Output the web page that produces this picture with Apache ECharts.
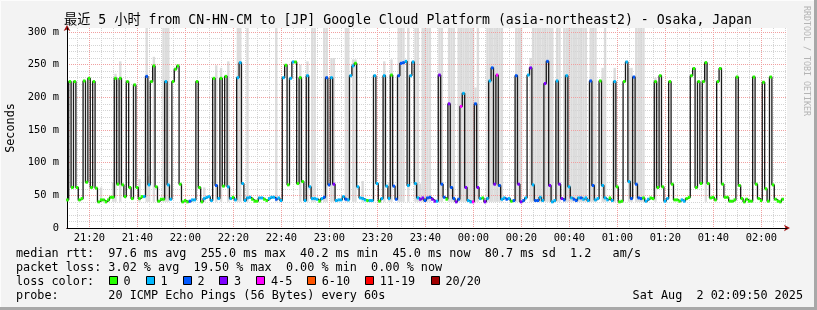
<!DOCTYPE html>
<html><head><meta charset="utf-8">
<script src="https://cdn.jsdelivr.net/npm/echarts@6/dist/echarts.min.js"></script>
<style>html,body{margin:0;padding:0;background:#f3f3f3}#c{width:817px;height:310px}</style>
</head><body><div id="c"></div>
<script>
// ---- data ----
// minutes after 21:00 at which the first 60 s slot starts
const startMinute = 10.4;
// median RTT per minute, ms
const median = [
 43,224,62,224,62,43,45,225,70,229, 62,224,61,40,43,43,40,43,47,47,
 229,67,229,66,48,224,62,45,219,62, 45,48,48,232,66,224,248,63,41,44,
 44,224,66,44,224,243,248,67,40,42, 40,41,43,43,224,62,40,45,47,48,
 42,229,65,45,229,64,232,63,45,47, 43,230,253,68,42,46,47,44,41,41,
 46,46,44,42,45,47,47,44,46,42, 230,249,66,229,254,254,68,230,71,42,
 233,63,45,45,44,41,45,47,230,66, 230,67,42,43,43,48,44,43,233,248,
 252,63,46,45,43,42,42,42,233,68, 41,45,233,64,45,234,64,44,233,252,
 253,255,65,233,254,68,46,44,46,42, 46,47,44,41,41,234,67,47,44,190,
 62,45,40,44,186,206,62,42,40,40, 190,62,45,46,40,45,225,245,67,234,
 65,44,46,44,45,41,42,233,67,40, 42,46,234,245,66,42,42,47,42,221,
 255,65,40,42,225,67,45,43,233,63, 46,44,42,46,46,44,46,42,225,65,
 43,45,225,65,46,43,46,42,224,63, 40,41,224,254,71,45,231,67,46,45,
 46,41,44,46,45,224,62,233,63,41, 45,224,67,43,43,41,43,41,45,47,
 233,244,62,224,68,224,253,68,46,47, 43,224,244,67,47,47,41,41,43,231,
 65,45,40,44,41,41,231,67,45,42, 223,60,41,231,66,44,41,40,44
];
// loss bucket per minute: 0 -> "0", 1 -> "1", 2 -> "2", 3 -> "3", 4 -> "4-5"
const loss = [
 0,0,0,0,0,0,0,0,0,0, 0,0,0,0,0,0,0,0,0,0,
 0,0,0,0,0,0,0,0,0,0, 0,0,1,2,1,0,0,0,0,0,
 0,1,1,1,0,0,0,0,0,0, 0,2,1,1,0,0,0,1,1,1,
 1,0,2,1,0,0,0,1,1,0, 1,1,1,1,1,1,1,0,0,0,
 1,1,0,0,1,1,1,2,1,1, 1,0,0,1,1,0,0,0,0,1,
 1,1,1,1,1,0,1,2,2,2, 1,3,1,1,1,1,2,1,1,1,
 0,1,1,1,1,0,1,1,1,1, 0,1,1,1,1,0,2,2,2,2,
 2,1,1,1,1,1,1,3,3,2, 2,2,3,3,1,3,2,2,0,3,
 2,2,3,2,4,1,3,1,1,4, 2,3,1,0,3,1,1,2,3,4,
 2,1,1,2,1,0,2,2,3,3, 2,1,1,3,1,2,2,1,1,3,
 2,3,1,1,1,3,3,2,1,1, 1,2,2,1,2,1,1,1,2,2,
 1,1,0,1,1,1,0,1,1,0, 0,0,0,1,1,2,2,2,2,2,
 0,1,1,0,0,0,0,0,0,1, 1,0,0,0,0,0,1,1,0,0,
 0,0,0,0,0,0,0,0,0,0, 0,0,0,0,0,0,0,0,0,0,
 0,0,0,0,0,0,0,0,0,0, 0,0,0,0,0,0,0,0,0
];
// top of the "smoke" (spread of the 20 pings) per minute, ms; 0 = none visible
const smokeTop = [
 0,0,0,0,0,0,0,0,0,0, 0,0,0,0,62,0,0,0,0,70,
 236,0,255,0,0,0,0,0,0,0, 75,0,0,310,80,0,262,0,0,0,
 310,310,310,0,0,0,0,0,0,0, 0,0,0,0,0,0,0,62,0,0,
 0,0,249,0,245,0,0,255,0,0, 0,310,310,0,0,310,0,0,0,0,
 0,0,0,0,0,0,0,310,0,0, 0,0,0,0,0,0,0,250,0,0,
 255,0,310,310,0,0,0,310,310,0, 260,260,0,0,0,0,310,310,0,258,
 258,0,0,72,0,0,0,0,0,0, 0,0,255,0,70,258,0,0,310,310,
 310,0,310,0,0,310,310,68,310,310, 310,310,0,0,0,310,310,0,0,310,
 310,310,0,310,310,310,310,310,310,310, 215,310,0,0,0,310,310,310,310,310,
 310,310,0,0,0,0,0,310,310,310, 0,0,0,260,310,310,310,310,310,310,
 310,310,310,0,310,310,0,310,310,310, 310,310,310,310,310,310,310,0,310,310,
 310,0,0,245,310,0,0,0,245,0, 0,0,0,0,245,245,0,310,310,310,
 310,0,0,0,0,230,0,0,0,0, 0,0,0,0,0,0,0,0,0,0,
 0,0,0,0,0,0,255,0,0,0, 0,0,0,0,0,0,0,0,0,0,
 0,0,0,0,0,0,0,0,0,0, 0,0,0,0,0,0,0,0,0
];
const smokeFloor = 40;
// x tick labels and their minutes after 21:00
const xTickLabels = ['21:20','21:40','22:00','22:20','22:40','23:00','23:20','23:40','00:00','00:20','00:40','01:00','01:20','01:40','02:00'];
const xTickMinutes = [20,40,60,80,100,120,140,160,180,200,220,240,260,280,300];
const yTicks = [0,50,100,150,200,250,300];
const lossLabels = ['0','1','2','3','4-5','6-10','11-19','20/20'];
const lossColors = ['#26ff00','#00b8ff','#0059ff','#7e00ff','#ff00ff','#ff5500','#ff0000','#a00000'];

// ---- derived ----
const xMin = 10.7, xMax = 310.7, yMax = 306;
const minorX = []; for (let m = 15; m <= 310; m += 5) if (m % 20) minorX.push(m);
const minorY = []; for (let v = 10; v <= 300; v += 10) if (v % 50) minorY.push(v);
const stepData = median.map((v, j) => [startMinute + j, v]);
stepData.push([startMinute + median.length, median[median.length - 1]]);
const markData = median.map((v, j) => [startMinute + j, v, loss[j]]);
const smokeData = smokeTop.map((h, j) => [startMinute + j, h]);

const MONO = '"DejaVu Sans Mono", monospace';
const chart = echarts.init(document.getElementById('c'), null, {renderer: 'canvas', width: 817, height: 310});

const legendFont = '11.8px ' + MONO;
const graphics = [
  // frame
  {type: 'rect', shape: {x: 0.5, y: 0.5, width: 815, height: 308}, style: {fill: null, stroke: '#fcfcfc', lineWidth: 1}, z: -10, silent: true},
  {type: 'line', shape: {x1: 815.5, y1: 0, x2: 815.5, y2: 310}, style: {stroke: '#a8a8a8', lineWidth: 3}, silent: true},
  {type: 'line', shape: {x1: 0, y1: 308.5, x2: 817, y2: 308.5}, style: {stroke: '#a8a8a8', lineWidth: 3}, silent: true},
  // title
  {type: 'text', x: 408, y: 21, style: {text: '最近 5 小时 from CN-HN-CM to [JP] Google Cloud Platform (asia-northeast2) - Osaka, Japan',
    font: '13.2px "DejaVu Sans Mono", "Noto Sans CJK SC", monospace', fill: '#000', align: 'center', verticalAlign: 'middle'}},
  // unit label
  {type: 'text', x: 11, y: 128, rotation: Math.PI / 2, style: {text: 'Seconds', font: '11.8px ' + MONO, fill: '#000', align: 'center', verticalAlign: 'middle'}},
  // watermark
  {type: 'text', x: 806.5, y: 61, rotation: -Math.PI / 2, style: {text: 'RRDTOOL / TOBI OETIKER', font: '8.3px ' + MONO, fill: '#b4b4b4', align: 'center', verticalAlign: 'middle'}},
  // legend lines
  {type: 'text', x: 16, y: 254, style: {text: 'median rtt:  97.6 ms avg  255.0 ms max  40.2 ms min  45.0 ms now  80.7 ms sd  1.2   am/s', font: legendFont, fill: '#000', verticalAlign: 'middle'}},
  {type: 'text', x: 16, y: 268, style: {text: 'packet loss: 3.02 % avg  19.50 % max  0.00 % min  0.00 % now', font: legendFont, fill: '#000', verticalAlign: 'middle'}},
  {type: 'text', x: 16, y: 282, style: {text: 'loss color:', font: legendFont, fill: '#000', verticalAlign: 'middle'}},
  {type: 'text', x: 16, y: 296, style: {text: 'probe:       20 ICMP Echo Pings (56 Bytes) every 60s', font: legendFont, fill: '#000', verticalAlign: 'middle'}},
  {type: 'text', x: 803, y: 296, style: {text: 'Sat Aug  2 02:09:50 2025', font: legendFont, fill: '#000', align: 'right', verticalAlign: 'middle'}}
];
const boxX = [108.7, 145.7, 182.7, 219.3, 256.3, 307, 365, 430.7];
lossLabels.forEach((lab, i) => {
  const bx = Math.round(boxX[i]) + 0.5;
  graphics.push({type: 'rect', shape: {x: bx, y: 276.5, width: 8, height: 8}, style: {fill: lossColors[i], stroke: '#000', lineWidth: 1}});
  graphics.push({type: 'text', x: boxX[i] + 14.7, y: 282, style: {text: lab, font: legendFont, fill: '#000', verticalAlign: 'middle'}});
});

const axisFont = {fontFamily: MONO, fontSize: 10.4, color: '#000'};
chart.setOption({
  animation: false,
  backgroundColor: '#f3f3f3',
  grid: {left: 67, top: 28, width: 720, height: 200, show: true, backgroundColor: '#ffffff', borderWidth: 0, z: -2, containLabel: false},
  xAxis: [
    {type: 'value', min: xMin, max: xMax, position: 'bottom', z: 1,
     axisLine: {show: true, onZero: false, lineStyle: {color: '#000', width: 1}},
     axisTick: {show: false, customValues: xTickMinutes},
     axisLabel: Object.assign({customValues: xTickMinutes, margin: 5, formatter: v => xTickLabels[xTickMinutes.indexOf(Math.round(v))] || ''}, axisFont),
     splitLine: {show: true, lineStyle: {color: '#f0a0a0', width: 1, type: [1, 1]}}},
    {type: 'value', min: xMin, max: xMax, position: 'bottom', z: 0,
     axisLine: {show: true, onZero: false, symbol: ['none', 'arrow'], symbolSize: [5, 6], symbolOffset: [0, 3], lineStyle: {color: '#a01010', width: 1}},
     axisTick: {show: false, customValues: minorX},
     axisLabel: {show: false},
     splitLine: {show: true, lineStyle: {color: '#d4d4d4', width: 1, type: [1, 1]}}}
  ],
  yAxis: [
    {type: 'value', min: 0, max: yMax, position: 'left', z: 1,
     axisLine: {show: true, onZero: false, lineStyle: {color: '#000', width: 1}},
     axisTick: {show: false, customValues: yTicks},
     axisLabel: Object.assign({customValues: yTicks, margin: 8, formatter: v => v === 0 ? '0' : v + ' m'}, axisFont),
     splitLine: {show: true, lineStyle: {color: '#f0a0a0', width: 1, type: [1, 1]}}},
    {type: 'value', min: 0, max: yMax, position: 'left', z: 0,
     axisLine: {show: true, onZero: false, symbol: ['none', 'arrow'], symbolSize: [5, 6], symbolOffset: [0, 3], lineStyle: {color: '#a01010', width: 1}},
     axisTick: {show: false, customValues: minorY},
     axisLabel: {show: false},
     splitLine: {show: true, lineStyle: {color: '#d4d4d4', width: 1, type: [1, 1]}}}
  ],
  series: [
    {type: 'custom', name: 'smoke', z: -1, data: smokeData, silent: true,
     renderItem: (params, api) => {
       const t = api.value(0), hi = api.value(1);
       if (!hi) return null;
       const p0 = api.coord([t, Math.min(hi, yMax)]);
       const p1 = api.coord([t + 1, smokeFloor]);
       return {type: 'rect', shape: {x: p0[0], y: p0[1], width: p1[0] - p0[0], height: p1[1] - p0[1]}, style: {fill: '#dcdcdc'}};
     }},
    {type: 'line', name: 'median', z: 2, step: 'end', data: stepData, showSymbol: false, silent: true,
     lineStyle: {color: '#1a1a1a', width: 1.3}},
    {type: 'custom', name: 'loss', z: 3, data: markData, silent: true,
     renderItem: (params, api) => {
       const t = api.value(0), v = api.value(1), l = api.value(2);
       const p0 = api.coord([t, v]);
       const p1 = api.coord([t + 1, v]);
       return {type: 'rect', shape: {x: p0[0], y: p0[1] - 1.5, width: p1[0] - p0[0], height: 3}, style: {fill: lossColors[l]}};
     }}
  ],
  graphic: graphics
});
</script></body></html>
